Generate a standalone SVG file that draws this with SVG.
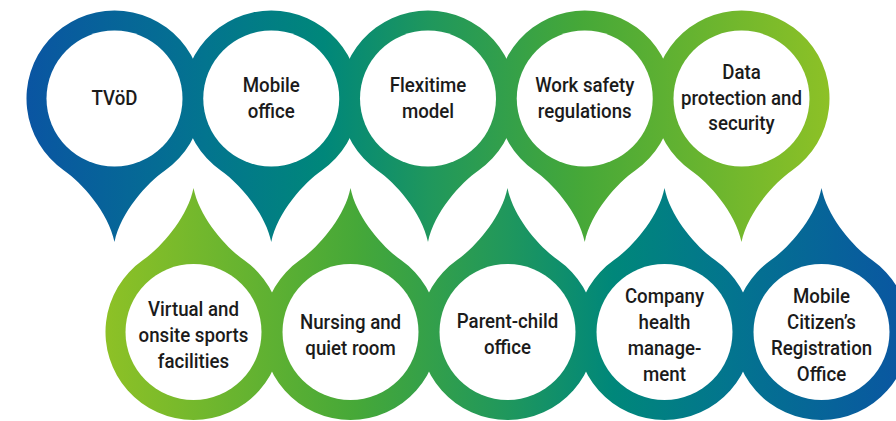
<svg xmlns="http://www.w3.org/2000/svg" width="896" height="421" viewBox="0 0 896 421">
<defs>
<linearGradient id="gTop" gradientUnits="userSpaceOnUse" x1="27" y1="0" x2="830" y2="0">
<stop offset="0" stop-color="#0a55a2"/>
<stop offset="0.22" stop-color="#03748f"/>
<stop offset="0.37" stop-color="#00877a"/>
<stop offset="0.5" stop-color="#1f975d"/>
<stop offset="0.69" stop-color="#46a838"/>
<stop offset="1" stop-color="#8dc126"/>
</linearGradient>
<linearGradient id="gBot" gradientUnits="userSpaceOnUse" x1="910" y1="0" x2="107" y2="0">
<stop offset="0" stop-color="#0a55a2"/>
<stop offset="0.22" stop-color="#03748f"/>
<stop offset="0.37" stop-color="#00877a"/>
<stop offset="0.5" stop-color="#1f975d"/>
<stop offset="0.69" stop-color="#46a838"/>
<stop offset="1" stop-color="#8dc126"/>
</linearGradient>
</defs>
<style>
.top{fill:url(#gTop)}
.bot{fill:url(#gBot)}
.hole{fill:#ffffff}
.lbl{font-family:Roboto,"Liberation Sans",sans-serif;font-weight:500;font-size:21px;fill:#1b1b1b;text-anchor:middle}
</style>
<rect width="896" height="421" fill="#ffffff"/>
<g id="connectors"/>
<g id="n-tvod">
<path class="top" d="M64,170.5 A88,88 0 1 1 165,170.5 C147.5,182.5 120.5,212.5 114.5,242 C108.5,212.5 81.5,182.5 64,170.5 Z"/>
<circle class="hole" cx="114.5" cy="98.5" r="68"/>
<text class="lbl" transform="translate(114.5,0) scale(0.89,1)"><tspan x="0" y="105">TVöD</tspan></text>
</g>
<g id="n-mobile-office">
<path class="top" d="M220.75,170.5 A88,88 0 1 1 321.75,170.5 C304.25,182.5 277.25,212.5 271.25,242 C265.25,212.5 238.25,182.5 220.75,170.5 Z"/>
<circle class="hole" cx="271.25" cy="98.5" r="68"/>
<text class="lbl" transform="translate(271.25,0) scale(0.89,1)"><tspan x="0" y="92.25">Mobile</tspan><tspan x="0" y="117.75">office</tspan></text>
</g>
<g id="n-flexitime">
<path class="top" d="M377.5,170.5 A88,88 0 1 1 478.5,170.5 C461,182.5 434,212.5 428,242 C422,212.5 395,182.5 377.5,170.5 Z"/>
<circle class="hole" cx="428" cy="98.5" r="68"/>
<text class="lbl" transform="translate(428,0) scale(0.89,1)"><tspan x="0" y="92.25">Flexitime</tspan><tspan x="0" y="117.75">model</tspan></text>
</g>
<g id="n-work-safety">
<path class="top" d="M534.25,170.5 A88,88 0 1 1 635.25,170.5 C617.75,182.5 590.75,212.5 584.75,242 C578.75,212.5 551.75,182.5 534.25,170.5 Z"/>
<circle class="hole" cx="584.75" cy="98.5" r="68"/>
<text class="lbl" transform="translate(584.75,0) scale(0.89,1)"><tspan x="0" y="92.25">Work safety</tspan><tspan x="0" y="117.75">regulations</tspan></text>
</g>
<g id="n-data-protection">
<path class="top" d="M691,170.5 A88,88 0 1 1 792,170.5 C774.5,182.5 747.5,212.5 741.5,242 C735.5,212.5 708.5,182.5 691,170.5 Z"/>
<circle class="hole" cx="741.5" cy="98.5" r="68"/>
<text class="lbl" transform="translate(741.5,0) scale(0.89,1)"><tspan x="0" y="79.5">Data</tspan><tspan x="0" y="105">protection and</tspan><tspan x="0" y="130.5">security</tspan></text>
</g>
<g id="n-sports">
<path class="bot" d="M143,260 A88,88 0 1 0 244,260 C226.5,248 199.5,218 193.5,188 C187.5,218 160.5,248 143,260 Z"/>
<circle class="hole" cx="193.5" cy="332" r="68"/>
<text class="lbl" transform="translate(193.5,0) scale(0.89,1)"><tspan x="0" y="316.5">Virtual and</tspan><tspan x="0" y="342.5">onsite sports</tspan><tspan x="0" y="368.5">facilities</tspan></text>
</g>
<g id="n-nursing">
<path class="bot" d="M300,260 A88,88 0 1 0 401,260 C383.5,248 356.5,218 350.5,188 C344.5,218 317.5,248 300,260 Z"/>
<circle class="hole" cx="350.5" cy="332" r="68"/>
<text class="lbl" transform="translate(350.5,0) scale(0.89,1)"><tspan x="0" y="329.5">Nursing and</tspan><tspan x="0" y="355.5">quiet room</tspan></text>
</g>
<g id="n-parent-child">
<path class="bot" d="M457,260 A88,88 0 1 0 558,260 C540.5,248 513.5,218 507.5,188 C501.5,218 474.5,248 457,260 Z"/>
<circle class="hole" cx="507.5" cy="332" r="68"/>
<text class="lbl" transform="translate(507.5,0) scale(0.89,1)"><tspan x="0" y="328.5">Parent-child</tspan><tspan x="0" y="354.5">office</tspan></text>
</g>
<g id="n-health">
<path class="bot" d="M614,260 A88,88 0 1 0 715,260 C697.5,248 670.5,218 664.5,188 C658.5,218 631.5,248 614,260 Z"/>
<circle class="hole" cx="664.5" cy="332" r="68"/>
<text class="lbl" transform="translate(664.5,0) scale(0.89,1)"><tspan x="0" y="303.5">Company</tspan><tspan x="0" y="329.5">health</tspan><tspan x="0" y="355.5">manage-</tspan><tspan x="0" y="381.5">ment</tspan></text>
</g>
<g id="n-registration">
<path class="bot" d="M771,260 A88,88 0 1 0 872,260 C854.5,248 827.5,218 821.5,188 C815.5,218 788.5,248 771,260 Z"/>
<circle class="hole" cx="821.5" cy="332" r="68"/>
<text class="lbl" transform="translate(821.5,0) scale(0.89,1)"><tspan x="0" y="303.5">Mobile</tspan><tspan x="0" y="329.5">Citizen’s</tspan><tspan x="0" y="355.5">Registration</tspan><tspan x="0" y="381.5">Office</tspan></text>
</g>
</svg>
